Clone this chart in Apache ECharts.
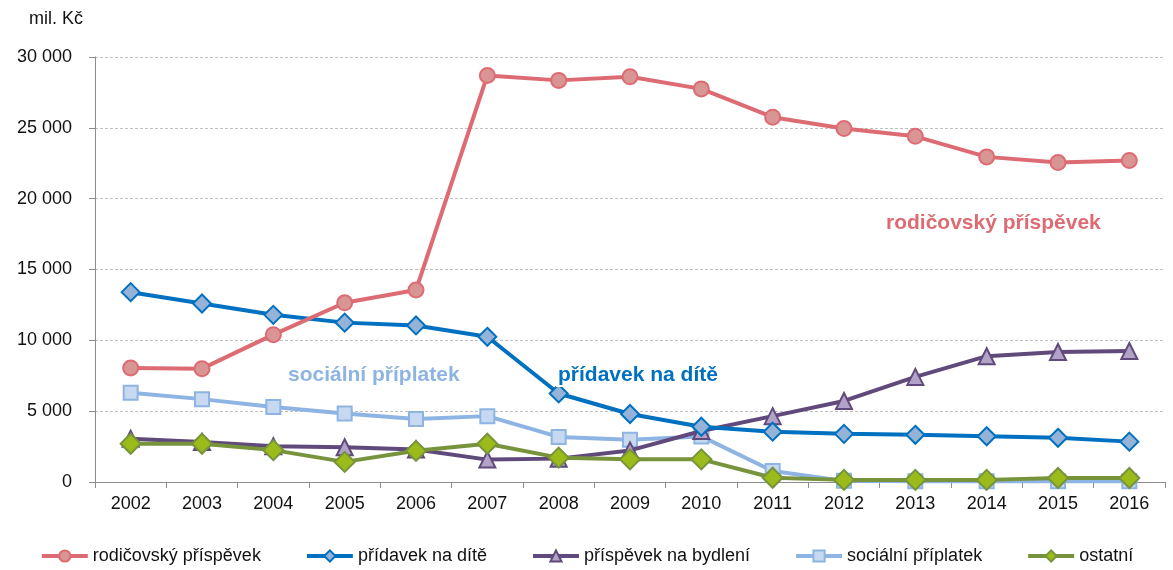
<!DOCTYPE html>
<html><head><meta charset="utf-8">
<script src="https://cdn.jsdelivr.net/npm/echarts@6/dist/echarts.min.js"></script>
<style>html,body{margin:0;padding:0;background:#fff}#c{width:1173px;height:570px}</style>
</head><body><div id="c"></div>
<script>
var years = ['2002','2003','2004','2005','2006','2007','2008','2009','2010','2011','2012','2013','2014','2015','2016'];
var rodicovsky = [8050, 8000, 10400, 12650, 13550, 28700, 28350, 28600, 27750, 25750, 24950, 24400, 22950, 22550, 22700];
var pridavek = [13400, 12600, 11800, 11250, 11050, 10250, 6250, 4800, 3900, 3550, 3400, 3330, 3230, 3120, 2850];
var bydleni = [3050, 2830, 2530, 2450, 2300, 1580, 1650, 2230, 3600, 4650, 5720, 7420, 8880, 9180, 9250];
var socialni = [6300, 5850, 5300, 4830, 4450, 4650, 3180, 2980, 3220, 780, 80, 60, 60, 60, 60];
var ostatni = [2700, 2700, 2250, 1420, 2200, 2700, 1720, 1600, 1600, 300, 150, 150, 150, 280, 280];
var seriesNames = ['rodičovský příspěvek','přídavek na dítě','příspěvek na bydlení','sociální příplatek','ostatní'];

var font = '"Liberation Sans", Arial, sans-serif';
function fmt(v){ return String(v).replace(/\B(?=(\d{3})+(?!\d))/g, ' '); }
function mk(name, data, line, fill, border, symbol, size, z){
  return {name:name, type:'line', data:data, symbol:symbol, symbolSize:size, z:z,
    lineStyle:{color:line, width:4}, itemStyle:{color:fill, borderColor:border, borderWidth:2},
    emphasis:{disabled:true}, animation:false};
}
var chart = echarts.init(document.getElementById('c'));
chart.setOption({
  animation:false,
  grid:{left:95, right:8, top:57, bottom:88},
  xAxis:{type:'category', data:years, boundaryGap:true,
    axisLine:{lineStyle:{color:'#8c8c8c', width:1}},
    axisTick:{show:true, length:6, lineStyle:{color:'#8c8c8c'}},
    axisLabel:{color:'#111', fontSize:18, fontFamily:font, margin:13}},
  yAxis:{type:'value', min:0, max:30000, interval:5000,
    axisLine:{show:true, lineStyle:{color:'#8c8c8c'}},
    axisTick:{show:true, inside:false, length:6, lineStyle:{color:'#8c8c8c'}},
    splitLine:{lineStyle:{color:'#bfbfbf', type:[3,2], width:1}},
    axisLabel:{color:'#111', fontSize:18, fontFamily:font, margin:23, formatter:fmt}},
  legend:{bottom:0, left:'center', itemGap:44, itemWidth:46, itemHeight:14,
    lineStyle:{width:4},
    textStyle:{color:'#111', fontSize:18, fontFamily:font},
    data:seriesNames},
  graphic:[
    {type:'text', left:29, top:10, style:{text:'mil. Kč', font:'18px '+font, fill:'#111'}},
    {type:'text', left:886, top:213, style:{text:'rodičovský příspěvek', font:'bold 21px '+font, fill:'#dd6b73'}},
    {type:'text', left:288, top:365, style:{text:'sociální příplatek', font:'bold 21px '+font, fill:'#8db4e2'}},
    {type:'text', left:556, top:364, z:1000, style:{text:'přídavek na dítě', font:'bold 21px '+font, fill:'#0070c0', backgroundColor:'#fff', padding:[1,2]}}
  ],
  series:[
    mk(seriesNames[0], rodicovsky, '#dd6b73', '#d99594', '#dd6b73', 'circle', 15, 5),
    mk(seriesNames[1], pridavek, '#0070c0', '#95b3d7', '#0070c0', 'diamond', 18, 4),
    mk(seriesNames[2], bydleni, '#604a7b', '#b3a2c7', '#604a7b', 'triangle', 16, 3),
    mk(seriesNames[3], socialni, '#8db4e2', '#c6d9f1', '#8db4e2', 'rect', 14, 2),
    mk(seriesNames[4], ostatni, '#77933c', '#9bbb1a', '#77933c', 'diamond', 20, 6)
  ]
});
</script></body></html>
